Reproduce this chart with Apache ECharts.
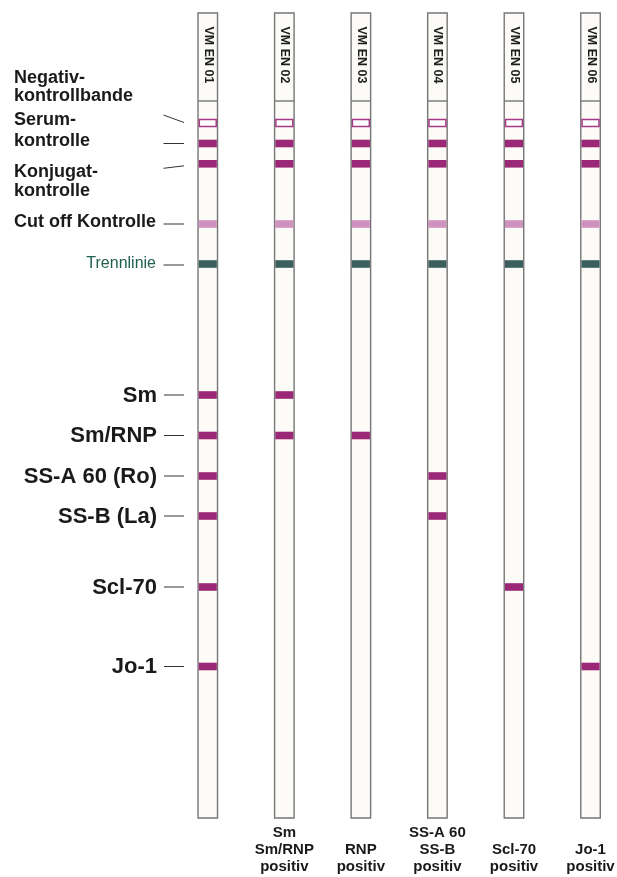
<!DOCTYPE html>
<html>
<head>
<meta charset="utf-8">
<script src="https://cdn.jsdelivr.net/npm/echarts@6/dist/echarts.min.js"></script>
<style>
html,body{margin:0;padding:0;background:#fff;}
#chart{width:617px;height:877px;}
</style>
</head>
<body>
<div id="chart"></div>
<script>
// ---- data ----
const strips = ['VM EN 01', 'VM EN 02', 'VM EN 03', 'VM EN 04', 'VM EN 05', 'VM EN 06'];
const bottomLabels = ['', 'Sm\nSm/RNP\npositiv', 'RNP\npositiv', 'SS-A 60\nSS-B\npositiv', 'Scl-70\npositiv', 'Jo-1\npositiv'];
const controlNames = ['Negativ-\nkontrollbande', 'Serum-\nkontrolle', 'Konjugat-\nkontrolle', 'Cut off Kontrolle', 'Trennlinie'];
const controlPos = [110, 130.5, 150.8, 211, 251];      // position along strip (strip top = 0)
const controlKind = ['outline', 'band', 'band', 'cutoff', 'trenn'];
const antigenNames = ['Sm', 'Sm/RNP', 'SS-A 60 (Ro)', 'SS-B (La)', 'Scl-70', 'Jo-1'];
const antigenPos = [382, 422.5, 463, 503, 574, 653.5];
// reactivity of each strip (rows) with each antigen (columns)
const positive = [
  [1, 1, 1, 1, 1, 1],
  [1, 1, 0, 0, 0, 0],
  [0, 1, 0, 0, 0, 0],
  [0, 0, 1, 1, 0, 0],
  [0, 0, 0, 0, 1, 0],
  [0, 0, 0, 0, 0, 1]
];
const stripLength = 805;
const headerEnd = 88;

// ---- build ----
const FONT = '"Liberation Sans", Arial, Helvetica, sans-serif';
const STRIP_W = 19.5;
const COLORS = { band: '#9b2777', outline: '#a53a87', cutoff: '#cf91bd', trenn: '#3b5f5d' };

const bandData = [];
strips.forEach((s, i) => {
  controlPos.forEach((p, k) => bandData.push([i, p, controlKind[k]]));
  antigenPos.forEach((p, j) => { if (positive[i][j]) bandData.push([i, p, 'band']); });
});

const labelData = [];
controlNames.forEach((n, k) => labelData.push([0, controlPos[k], 'c', k]));
antigenNames.forEach((n, j) => labelData.push([0, antigenPos[j], 'a', j]));

function renderStrip(params, api) {
  const idx = api.value(0);
  const top = api.coord([idx, 0]);
  const bot = api.coord([idx, stripLength]);
  const hdr = api.coord([idx, headerEnd]);
  const x = top[0] - STRIP_W / 2;
  return {
    type: 'group',
    children: [
      { type: 'rect', shape: { x: x, y: top[1], width: STRIP_W, height: bot[1] - top[1] },
        style: { fill: '#fcfbf7', stroke: '#767676', lineWidth: 1.4 } },
      { type: 'line', shape: { x1: x, y1: hdr[1], x2: x + STRIP_W, y2: hdr[1] },
        style: { stroke: '#767676', lineWidth: 1.4 } },
      { type: 'text', x: top[0] + 0.5, y: (top[1] + hdr[1]) / 2 - 2, rotation: -Math.PI / 2,
        style: { text: strips[idx], font: 'bold 12.5px ' + FONT, fill: '#1e1e1e', align: 'center', verticalAlign: 'middle' } }
    ]
  };
}

function renderBand(params, api) {
  const idx = api.value(0);
  const c = api.coord([idx, api.value(1)]);
  const kind = bandData[params.dataIndex][2];
  const x = c[0] - STRIP_W / 2 + 0.7;
  const w = STRIP_W - 1.4;
  if (kind === 'outline') {
    return { type: 'rect', shape: { x: x + 0.6, y: c[1] - 3.6, width: w - 1.2, height: 7.2 },
      style: { fill: '#ffffff', stroke: COLORS.outline, lineWidth: 1.5 } };
  }
  return { type: 'rect', shape: { x: x, y: c[1] - 3.8, width: w, height: 7.6 },
    style: { fill: COLORS[kind] } };
}

// label block offsets (px) relative to their band
const ctrlTextDy = [-36, -12.5, 17.7, -1.5, 0];
const ctrlLineH = [18, 21, 19, 18, 18];
const ctrlLeadDy = [[-8, -0.5], [0, 0], [4.5, 2], [0, 0], [1, 1]];

function renderLabel(params, api) {
  const d = labelData[params.dataIndex];
  const y = api.coord([0, d[1]])[1];
  const k = d[3];
  const lineStyle = { stroke: '#333', lineWidth: 1 };
  if (d[2] === 'a') {
    return { type: 'group', children: [
      { type: 'line', shape: { x1: 164, y1: y, x2: 184, y2: y }, style: lineStyle },
      { type: 'text', x: 157, y: y + 0.5,
        style: { text: antigenNames[k], font: 'bold 22px ' + FONT, fill: '#1a1a1a', align: 'right', verticalAlign: 'middle' } }
    ] };
  }
  const left = k < 3;
  const isTrenn = k === 4;
  return { type: 'group', children: [
    { type: 'line', shape: { x1: 163.5, y1: y + ctrlLeadDy[k][0], x2: 184, y2: y + ctrlLeadDy[k][1] }, style: lineStyle },
    { type: 'text', x: left ? 14 : 156, y: y + ctrlTextDy[k],
      style: { text: controlNames[k], font: (isTrenn ? '' : 'bold ') + (isTrenn ? 16 : 18) + 'px ' + FONT,
        fill: isTrenn ? '#1f5f4f' : '#1a1a1a', align: left ? 'left' : 'right', verticalAlign: 'middle',
        lineHeight: ctrlLineH[k] } }
  ] };
}

const chart = echarts.init(document.getElementById('chart'), null, { renderer: 'canvas' });
chart.setOption({
  animation: false,
  backgroundColor: '#ffffff',
  grid: { left: 169.5, right: -11.8, top: 13, bottom: 59, containLabel: false, outerBoundsMode: 'none' },
  xAxis: {
    type: 'category',
    data: strips,
    axisLine: { show: false },
    axisTick: { show: false },
    splitLine: { show: false },
    axisLabel: {
      interval: 0,
      margin: 57,
      verticalAlign: 'bottom',
      formatter: (v, i) => bottomLabels[i],
      fontFamily: FONT,
      fontWeight: 'bold',
      fontSize: 15,
      lineHeight: 17,
      color: '#1a1a1a'
    }
  },
  yAxis: { type: 'value', inverse: true, min: 0, max: stripLength, show: false },
  series: [
    { type: 'custom', renderItem: renderStrip, data: strips.map((s, i) => [i, 0]), z: 1 },
    { type: 'custom', renderItem: renderBand, data: bandData.map(d => [d[0], d[1]]), z: 2 },
    { type: 'custom', renderItem: renderLabel, data: labelData.map(d => [d[0], d[1]]), z: 3 }
  ]
});
</script>
</body>
</html>
